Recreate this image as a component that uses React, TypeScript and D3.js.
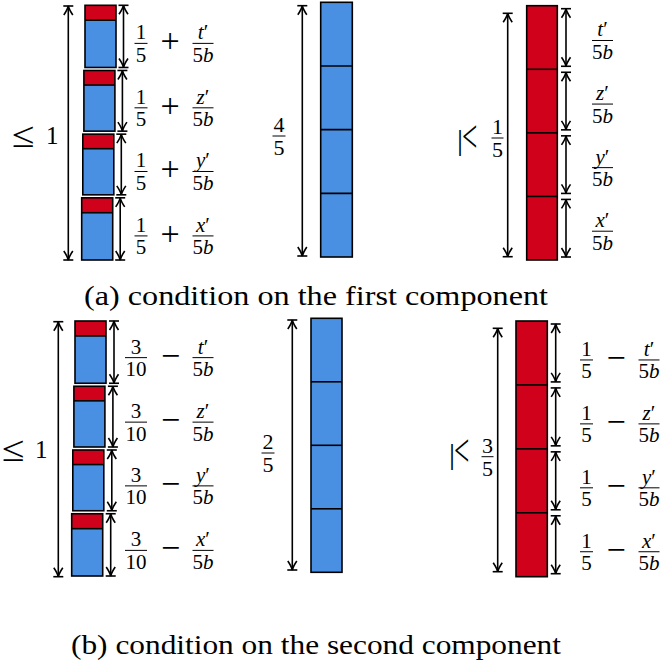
import React from "react";
import * as d3 from "d3";

// four slices, listed from the top of each column down
const segmentVars = ["t", "z", "y", "x"];
const segmentUnits = [1, 1, 1, 1];
const redShare = [0.24, 0.24, 0.24, 0.24];

// the terms written next to each slice
const stackTermA = { num: "1", den: "5", op: "+" };
const stackTermB = { num: "3", den: "10", op: "−" };
const redTermB = { num: "1", den: "5", op: "−" };

// totals written beside each column
const totalsA = { stack: "1", blue: ["4", "5"], red: ["1", "5"] };
const totalsB = { stack: "1", blue: ["2", "5"], red: ["3", "5"] };

const captions = [
  "(a) condition on the first component",
  "(b) condition on the second component",
];

const BLUE = "#4A90E2";
const RED = "#D0021B";
const tx = { fontFamily: "'Liberation Serif', 'Times New Roman', serif" };

const panelA = {
  stack: { top: 5.3, bottom: 260, x: 85, drift: -1.1, w: 31, inset: 1.5, arrowX: 68.3, arrowTop: 6, arrowBottom: 260, sideGap: 7.5, termX: [141, 170, 203], termDy: 7, leqX: 12, oneX: 46, totalY: 144 },
  blue: { top: 2.3, bottom: 257, x: 320.7, w: 31.6, arrowX: 302.3, arrowTop: 5.7, arrowBottom: 256, labelX: 279, labelY: 136 },
  red: { top: 5.7, bottom: 260, x: 526.7, w: 30.6, arrowX: 507.7, arrowTop: 13.3, arrowBottom: 256.7, sideX: 566, inset: 3, termX: [0, 0, 602.5], termDy: 3, leqX: 458, leqY: 140, fracX: 497.5, fracY: 138 },
  captionY: 305,
  captionW: 464,
};

const panelB = {
  stack: { top: 321, bottom: 576, x: 75, drift: -1.1, w: 31, inset: 1.5, arrowX: 58.3, arrowTop: 321.7, arrowBottom: 576.7, sideGap: 8, termX: [136, 170.5, 203], termDy: 5.5, leqX: 2, oneX: 35, totalY: 458 },
  blue: { top: 318.3, bottom: 572.3, x: 311, w: 31, arrowX: 292.3, arrowTop: 320, arrowBottom: 570, labelX: 268, labelY: 453 },
  red: { top: 321, bottom: 576.7, x: 516, w: 31.3, arrowX: 497.7, arrowTop: 328.3, arrowBottom: 571.7, sideX: 555.7, inset: 3, termX: [586.5, 616, 649], termDy: 7, leqX: 450, leqY: 454, fracX: 487.5, fracY: 456.7 },
  captionY: 654,
  captionW: 490,
};

// digits upright, letters italic
const mathText = (s: string) =>
  s.split("").map((c, i) =>
    /[a-z]/.test(c) ? <tspan key={i} fontStyle="italic">{c}</tspan> : <tspan key={i}>{c}</tspan>
  );

function DimArrow({ x, y1, y2 }: { x: number; y1: number; y2: number }) {
  const bar = 5, len = 9, hw = 4.5;
  return (
    <g stroke="#000" strokeWidth={1.6} fill="none">
      <line x1={x} x2={x} y1={y1} y2={y2} />
      <line x1={x - bar} x2={x + bar} y1={y1} y2={y1} />
      <line x1={x - bar} x2={x + bar} y1={y2} y2={y2} />
      <path d={`M${x - hw},${y1 + len} Q${x - 0.8},${y1 + 3.5} ${x},${y1} Q${x + 0.8},${y1 + 3.5} ${x + hw},${y1 + len}`} />
      <path d={`M${x - hw},${y2 - len} Q${x - 0.8},${y2 - 3.5} ${x},${y2} Q${x + 0.8},${y2 - 3.5} ${x + hw},${y2 - len}`} />
    </g>
  );
}

function Frac({ cx, axis, num, den, w, fs = 21 }: { cx: number; axis: number; num: React.ReactNode; den: React.ReactNode; w: number; fs?: number }) {
  return (
    <g textAnchor="middle">
      <text x={cx} y={axis - 4} style={tx} fontSize={fs}>{num}</text>
      <line x1={cx - w / 2} x2={cx + w / 2} y1={axis} y2={axis} stroke="#000" strokeWidth={1} />
      <text x={cx} y={axis + fs * 0.88} style={tx} fontSize={fs}>{den}</text>
    </g>
  );
}

const VarFrac = ({ cx, axis, v }: { cx: number; axis: number; v: string }) => (
  <Frac cx={cx} axis={axis} w={21} num={<>{mathText(v)}<tspan>′</tspan></>} den={mathText("5b")} />
);

function segmentSpans(top: number, bottom: number) {
  const y = d3.scaleLinear().domain([0, d3.sum(segmentUnits)]).range([top, bottom]);
  const starts = [0, ...d3.cumsum(segmentUnits)];
  return segmentUnits.map((_, i) => [y(starts[i]), y(starts[i + 1])]);
}

function StackColumn({ g, term, total }: any) {
  const n = segmentUnits.length;
  const drift = d3.scaleLinear().domain([0, n - 1]).range([0, g.drift * (n - 1)]);
  const spans = segmentSpans(g.top, g.bottom);
  const lx = g.leqX, ly = g.totalY + 3;
  return (
    <g>
      <DimArrow x={g.arrowX} y1={g.arrowTop} y2={g.arrowBottom} />
      <text x={lx} y={ly} style={tx} fontSize={36} transform={`translate(${lx},${ly}) scale(1.15,1) translate(${-lx},${-ly})`}>≤</text>
      <text x={g.oneX} y={g.totalY} style={tx} fontSize={25}>{total}</text>
      {spans.map(([a, b], i) => {
        const y0 = a + (i > 0 ? g.inset : 0);
        const y1 = b - (i < n - 1 ? g.inset : 0);
        const x = g.x + drift(i);
        const yr = y0 + (y1 - y0) * redShare[i];
        const axis = (y0 + y1) / 2 + g.termDy;
        return (
          <g key={i}>
            <rect x={x} y={y0} width={g.w} height={y1 - y0} fill={BLUE} />
            <rect x={x} y={y0} width={g.w} height={yr - y0} fill={RED} />
            <rect x={x} y={y0} width={g.w} height={y1 - y0} fill="none" stroke="#000" strokeWidth={1.6} />
            <line x1={x} x2={x + g.w} y1={yr} y2={yr} stroke="#000" strokeWidth={1.6} />
            <DimArrow x={x + g.w + g.sideGap} y1={y0} y2={y1} />
            <Frac cx={g.termX[0]} axis={axis} w={term.den.length > 1 ? 22 : 13} num={term.num} den={term.den} />
            <text x={g.termX[1]} y={axis + 9} textAnchor="middle" style={tx} fontSize={34}>{term.op}</text>
            <VarFrac cx={g.termX[2]} axis={axis} v={segmentVars[i]} />
          </g>
        );
      })}
    </g>
  );
}

function BlueColumn({ g, total }: any) {
  const spans = segmentSpans(g.top, g.bottom);
  return (
    <g>
      <DimArrow x={g.arrowX} y1={g.arrowTop} y2={g.arrowBottom} />
      <Frac cx={g.labelX} axis={g.labelY} w={13} fs={22} num={total[0]} den={total[1]} />
      <rect x={g.x} y={g.top} width={g.w} height={g.bottom - g.top} fill={BLUE} stroke="#000" strokeWidth={1.6} />
      {spans.slice(1).map(([a], i) => (
        <line key={i} x1={g.x} x2={g.x + g.w} y1={a} y2={a} stroke="#000" strokeWidth={1.6} />
      ))}
    </g>
  );
}

function RedColumn({ g, total, term }: any) {
  const spans = segmentSpans(g.top, g.bottom);
  return (
    <g>
      <DimArrow x={g.arrowX} y1={g.arrowTop} y2={g.arrowBottom} />
      <text x={g.leqX - 1} y={g.leqY + 10} style={tx} fontSize={30}>|</text>
      <text x={g.leqX + 4} y={g.leqY + 9} style={tx} fontSize={34} transform={`translate(${g.leqX + 4},${g.leqY}) scale(0.8,1.35) translate(${-(g.leqX + 4)},${-g.leqY})`}>{"<"}</text>
      <Frac cx={g.fracX} axis={g.fracY} w={12} fs={22} num={total[0]} den={total[1]} />
      <rect x={g.x} y={g.top} width={g.w} height={g.bottom - g.top} fill={RED} stroke="#000" strokeWidth={1.6} />
      {spans.slice(1).map(([a], i) => (
        <line key={i} x1={g.x} x2={g.x + g.w} y1={a} y2={a} stroke="#000" strokeWidth={1.6} />
      ))}
      {spans.map(([a, b], i) => {
        const y0 = a + g.inset, y1 = b - g.inset;
        const axis = (y0 + y1) / 2 + g.termDy;
        return (
          <g key={i}>
            <DimArrow x={g.sideX} y1={y0} y2={y1} />
            {term && <Frac cx={g.termX[0]} axis={axis} w={13} num={term.num} den={term.den} />}
            {term && <text x={g.termX[1]} y={axis + 9} textAnchor="middle" style={tx} fontSize={34}>{term.op}</text>}
            <VarFrac cx={g.termX[2]} axis={axis} v={segmentVars[i]} />
          </g>
        );
      })}
    </g>
  );
}

export default function App() {
  return (
    <svg width={665} height={671} style={{ position: "absolute", left: 0, top: 0, background: "#fff" }}>
      <StackColumn g={panelA.stack} term={stackTermA} total={totalsA.stack} />
      <BlueColumn g={panelA.blue} total={totalsA.blue} />
      <RedColumn g={panelA.red} total={totalsA.red} />
      <text x={316} y={panelA.captionY} textAnchor="middle" style={tx} fontSize={27} textLength={panelA.captionW} lengthAdjust="spacingAndGlyphs">{captions[0]}</text>

      <StackColumn g={panelB.stack} term={stackTermB} total={totalsB.stack} />
      <BlueColumn g={panelB.blue} total={totalsB.blue} />
      <RedColumn g={panelB.red} total={totalsB.red} term={redTermB} />
      <text x={316} y={panelB.captionY} textAnchor="middle" style={tx} fontSize={27} textLength={panelB.captionW} lengthAdjust="spacingAndGlyphs">{captions[1]}</text>
    </svg>
  );
}
